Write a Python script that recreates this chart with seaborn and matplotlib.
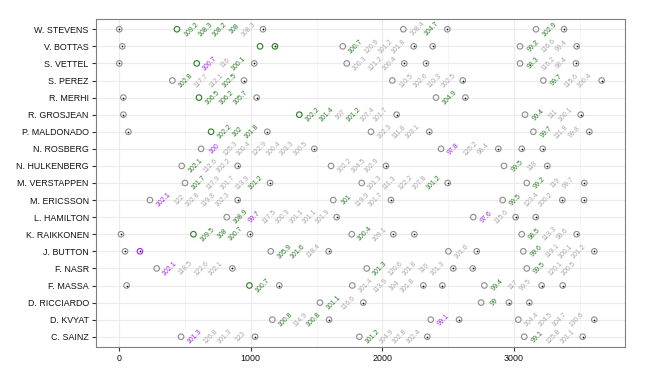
import numpy as np
import pandas as pd
import matplotlib
matplotlib.use('Agg')
import matplotlib.pyplot as plt
import seaborn as sns

drivers = ['W. STEVENS', 'V. BOTTAS', 'S. VETTEL', 'S. PEREZ', 'R. MERHI',
           'R. GROSJEAN', 'P. MALDONADO', 'N. ROSBERG', 'N. HULKENBERG',
           'M. VERSTAPPEN', 'M. ERICSSON', 'L. HAMILTON', 'K. RAIKKONEN',
           'J. BUTTON', 'F. NASR', 'F. MASSA', 'D. RICCIARDO', 'D. KVYAT',
           'C. SAINZ']

# in-laps (dotted circles), session time in s, one list per driver
pit_times = [[2, 1093, 2493, 3379], [25, 1184, 2238, 2382, 3475],
             [2, 1027, 2166, 2331, 3470], [949, 2610, 3665],
             [33, 1045, 2630], [33, 2108, 3506], [71, 1126, 2356, 3571],
             [1483, 2880, 3058, 3217], [901, 2027, 3252], [1147, 2496, 3533],
             [901, 2065, 3366, 3531], [1653, 3012, 3164],
             [15, 995, 2083, 2242, 3475], [46, 159, 1592, 2716, 3609],
             [861, 2538, 2686], [58, 1217, 2311, 2455, 3209, 3369],
             [1855, 2961, 3116], [1595, 2582, 3609], [1033, 2341, 3521]]
pit_cols = ['nnnn', 'ngnnn', 'nnnnn', 'nnn', 'nnn', 'nnn', 'nnnn', 'nnnn',
            'nnn', 'nnn', 'nnnn', 'nnn', 'nnnnn', 'npnnn', 'nnn', 'nnnnnn',
            'nnn', 'nnn', 'nnn']

# stints: driver, end of out-lap (open circle), its colour, timed laps, lap colours
stint_driver = ['W. STEVENS', 'W. STEVENS', 'W. STEVENS',
                'V. BOTTAS', 'V. BOTTAS', 'V. BOTTAS',
                'S. VETTEL', 'S. VETTEL', 'S. VETTEL',
                'S. PEREZ', 'S. PEREZ', 'S. PEREZ',
                'R. MERHI', 'R. MERHI',
                'R. GROSJEAN', 'R. GROSJEAN',
                'P. MALDONADO', 'P. MALDONADO', 'P. MALDONADO',
                'N. ROSBERG', 'N. ROSBERG',
                'N. HULKENBERG', 'N. HULKENBERG', 'N. HULKENBERG',
                'M. VERSTAPPEN', 'M. VERSTAPPEN', 'M. VERSTAPPEN',
                'M. ERICSSON', 'M. ERICSSON', 'M. ERICSSON',
                'L. HAMILTON', 'L. HAMILTON',
                'K. RAIKKONEN', 'K. RAIKKONEN', 'K. RAIKKONEN',
                'J. BUTTON', 'J. BUTTON', 'J. BUTTON',
                'F. NASR', 'F. NASR', 'F. NASR',
                'F. MASSA', 'F. MASSA', 'F. MASSA',
                'D. RICCIARDO', 'D. RICCIARDO',
                'D. KVYAT', 'D. KVYAT', 'D. KVYAT',
                'C. SAINZ', 'C. SAINZ', 'C. SAINZ']
stint_out = [440, 2159, 3166, 1071, 1699, 3045, 590, 1729, 3045, 405, 2075, 3222,
             607, 2407, 1369, 3083, 699, 1913, 3146, 623, 2445, 476, 1610, 2923,
             501, 1843, 3096, 235, 1627, 2913, 818, 2690, 565, 1767, 3058,
             1152, 2501, 3070, 286, 1881, 3096, 990, 1771, 2774, 1526, 2749,
             1164, 2367, 3032, 471, 1825, 3077]
stint_out_col = ['g', 'n', 'n', 'g', 'n', 'n', 'g', 'n', 'n', 'n', 'n', 'n',
                 'g', 'n', 'g', 'n', 'g', 'n', 'n', 'n', 'n', 'n', 'n', 'n',
                 'n', 'n', 'n', 'n', 'n', 'n', 'n', 'n', 'g', 'n', 'n',
                 'n', 'n', 'n', 'n', 'n', 'n', 'g', 'n', 'n', 'n', 'n',
                 'n', 'n', 'n', 'n', 'n', 'n']
stint_laps = [[109.2, 108.3, 108.2, 108, 108.3], [108.4, 104.7], [102.9],
              [], [100.7, 120.9, 101.2, 101.8], [99.2, 116.6, 99.4],
              [100.7, 116, 100.1], [100.3, 121.2, 100.4], [98.3, 116.2, 98.4],
              [102.8, 117.7, 112.1, 102.5], [110.5, 102.6, 110.3, 102.5], [99.7, 115.6, 100.4],
              [106.5, 106.2, 105.7], [104.9],
              [102.2, 101.4, 107, 101.2, 107.4, 101.7], [99.4, 111, 100.1],
              [102.2, 102, 101.8], [102.3, 111.8, 103.1], [99.7, 111.8, 99.8],
              [100, 125.3, 100.4, 122.9, 100.4, 103.3, 100.5], [97.8, 125.2, 98.4],
              [102.1, 112.6, 102.2], [102.2, 104.5, 102.9], [99.5, 118],
              [101.7, 117.9, 101.7, 113.9, 101.2], [101.3, 111.3, 122.2, 107.8, 101.2], [99.2, 119, 99.7],
              [102.1, 122, 102.8, 119.8, 102.3], [101, 119.9, 101.7], [99.5, 123.4, 100.2],
              [108.9, 99.7, 117.5, 100.3, 101.1, 101.1, 101.9], [97.6, 115.6],
              [109.5, 108, 100.7], [100.4, 109.1], [98.5, 113.3, 98.6],
              [105.9, 101.6, 118.4], [101.6], [99.6, 119.1, 100.1, 101.2],
              [102.1, 118.5, 122.6, 102.1], [101.3, 120.6, 101.8, 116, 101.3], [99.5, 120.1, 100.5],
              [100.7], [101.4, 113.9, 104, 101.8], [99.4, 117, 99.5],
              [101.1, 116.6], [99],
              [100.8, 114.9, 100.8], [99.1], [104.4, 104.5, 104.7, 130.6],
              [101.3, 126.8, 101.3, 123], [101.2, 104.9, 102.8, 102.4], [99.1, 125.8, 101.1]]
stint_flags = ['ggggn', 'ng', 'g', '', 'gnnn', 'gnn', 'png', 'nnn', 'gnn',
               'gnng', 'nnnn', 'gnn', 'ggg', 'g', 'ggngnn', 'gnn',
               'ggg', 'nnn', 'gnn', 'pnnnnnn', 'pnn', 'gnn', 'nnn', 'gn',
               'gnnng', 'nnnng', 'gnn', 'pnnnn', 'gnn', 'gnn', 'gpnnnnn', 'pn',
               'ggg', 'gn', 'gnn', 'ggn', 'n', 'gnnn', 'pnnn', 'gnnnn', 'gnn',
               'g', 'nnnn', 'gnn', 'gn', 'g', 'gng', 'p', 'nnnn',
               'pnnn', 'gnnn', 'gnn']

green = '#2b7a26'
purple = '#a020f0'
mark_pal = {'n': '#8c8c8c', 'g': green, 'p': purple}
text_pal = {'n': '#a8a8a8', 'g': green, 'p': purple}

row = {d: i for i, d in enumerate(drivers)}

outs = pd.DataFrame({'time': stint_out,
                     'row': [row[d] for d in stint_driver],
                     'col': stint_out_col})
ins = pd.DataFrame({'time': [t for ts in pit_times for t in ts],
                    'row': [i for i, ts in enumerate(pit_times) for _ in ts],
                    'col': [c for cs in pit_cols for c in cs]})
recs = []
for d, start, laps, flags in zip(stint_driver, stint_out, stint_laps, stint_flags):
    ends = start + np.cumsum(laps) if laps else []
    for x, t, f in zip(ends, laps, flags):
        recs.append({'time': x, 'row': row[d], 'lap': f'{t:g}', 'col': f})
laps_df = pd.DataFrame(recs)

sns.set_theme(style='white')
plt.rcParams['font.family'] = ['Liberation Sans', 'DejaVu Sans']

fig, ax = plt.subplots(figsize=(6.45, 3.71), dpi=100)
fig.subplots_adjust(left=95.7 / 645, right=625 / 645, top=1 - 19 / 371, bottom=1 - 347 / 371)

for df in (outs, ins):
    sns.scatterplot(data=df, x='time', y='row', hue='col', palette=mark_pal,
                    marker='o', s=16, linewidth=0.8, legend=False, ax=ax, zorder=3)
    pc = ax.collections[-1]
    pc.set_edgecolors(pc.get_facecolors())
    pc.set_facecolors('none')
sns.scatterplot(data=ins, x='time', y='row', color='black', s=1.5,
                linewidth=0, legend=False, ax=ax, zorder=4)

for _, r in laps_df.iterrows():
    ax.text(r['time'], r['row'], r['lap'], rotation=45, rotation_mode='anchor',
            ha='center', va='center', fontsize=5.0, color=text_pal[r['col']], zorder=5)

ax.set_xlim(-177, 3842)
ax.set_ylim(len(drivers) - 0.4, -0.6)
ax.set_xticks([0, 1000, 2000, 3000])
ax.set_xticks([500, 1500, 2500, 3500], minor=True)
ax.set_yticks(range(len(drivers)))
ax.set_yticklabels(drivers)
ax.set_xlabel('')
ax.set_ylabel('')
ax.grid(which='major', color='#ebebeb', lw=0.8)
ax.grid(which='minor', axis='x', color='#f2f2f2', lw=0.5)
ax.set_axisbelow(True)
for s in ax.spines.values():
    s.set_color('#7f7f7f')
    s.set_linewidth(0.8)
ax.tick_params(axis='both', which='major', length=3, width=0.8, color='#333333',
               labelsize=6.4, labelcolor='#111111', pad=2, left=True, bottom=True)
ax.tick_params(axis='x', which='minor', length=0)

fig.savefig('out.png', dpi=100)
